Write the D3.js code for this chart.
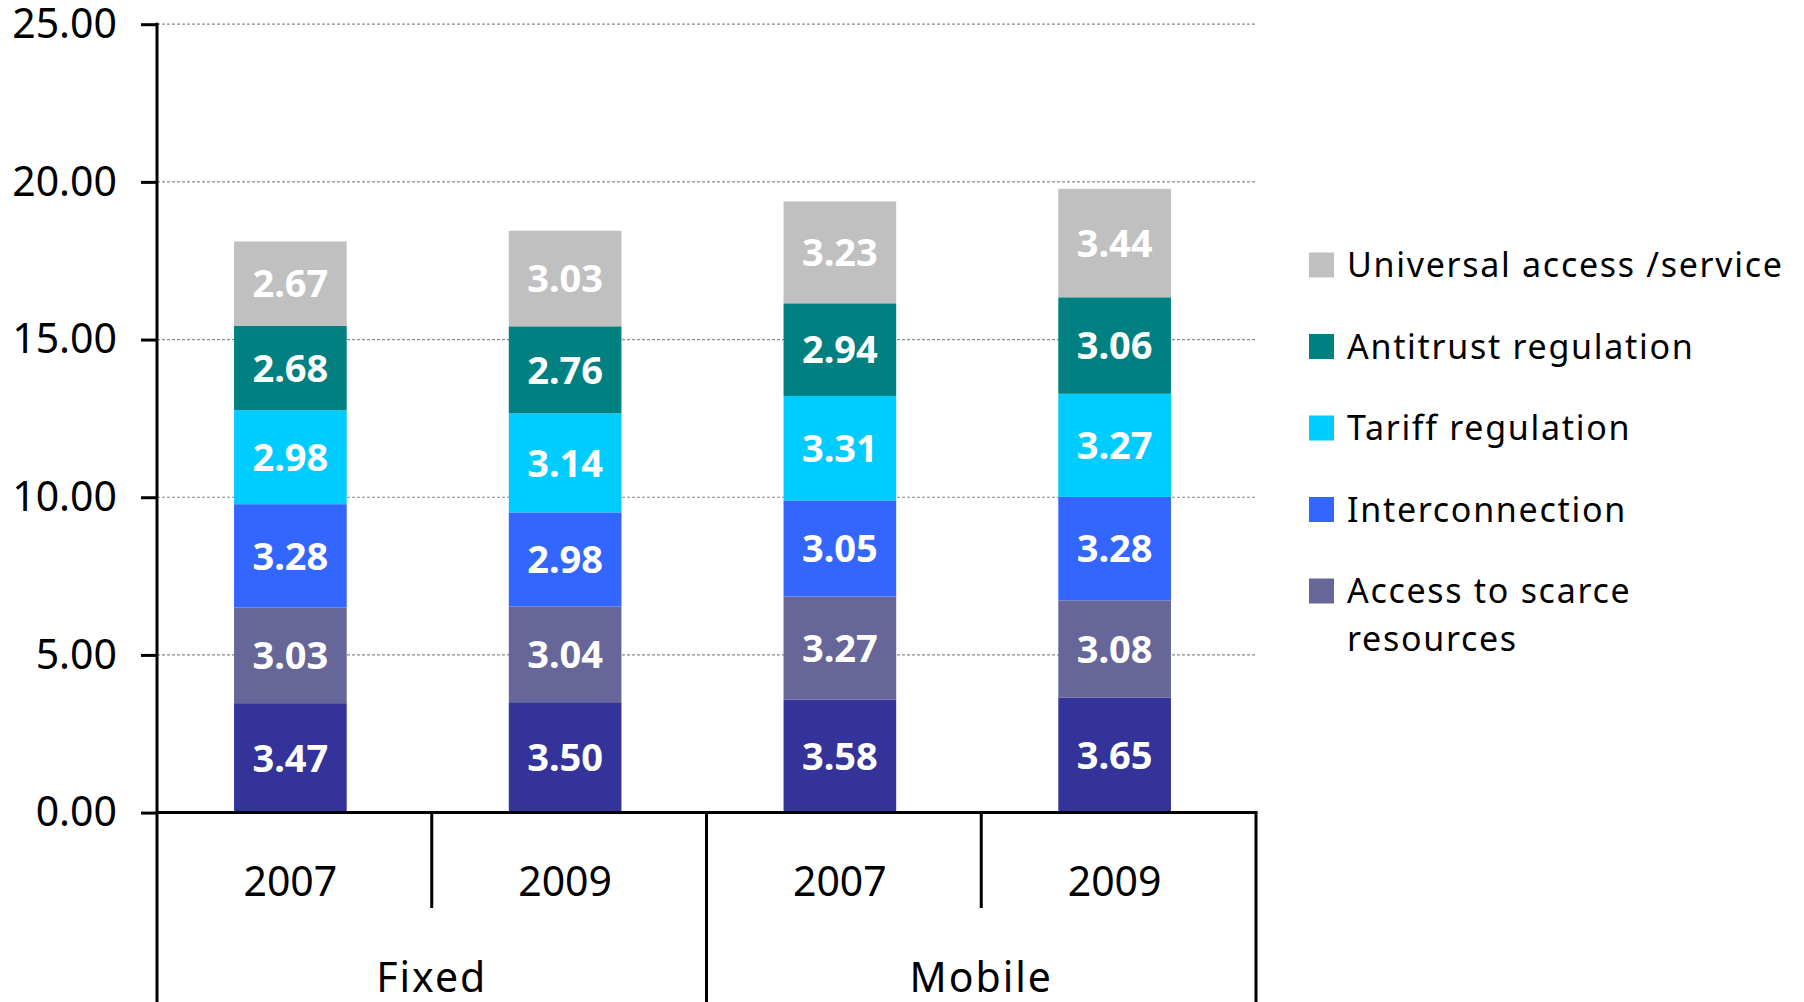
<html>
  <body style="margin:0;background:#fff">
    <script src="https://d3js.org/d3.v7.min.js"></script>
    <div id="main"></div>
    <script>
      // data
      const groups = ["Fixed", "Mobile"];
      const years = ["2007", "2009"];
      const seriesNames = [
        "Base", // bottom series, not shown in the legend
        "Access to scarce resources",
        "Interconnection",
        "Tariff regulation",
        "Antitrust regulation",
        "Universal access /service",
      ];
      const seriesColors = ["#333399", "#666699", "#3366FF", "#00CCFF", "#008080", "#C0C0C0"];
      const fixed2007 = [3.47, 3.03, 3.28, 2.98, 2.68, 2.67];
      const fixed2009 = [3.5, 3.04, 2.98, 3.14, 2.76, 3.03];
      const mobile2007 = [3.58, 3.27, 3.05, 3.31, 2.94, 3.23];
      const mobile2009 = [3.65, 3.08, 3.28, 3.27, 3.06, 3.44];
      const yTicks = [0, 5, 10, 15, 20, 25];
      const legendOrder = [5, 4, 3, 2, 1];

      const W = 1804, H = 1002;
      const svg = d3.select("#main").append("svg")
        .attr("width", W).attr("height", H)
        .style("display", "block");

      const rows = [
        { group: "Fixed", year: "2007", vals: fixed2007 },
        { group: "Fixed", year: "2009", vals: fixed2009 },
        { group: "Mobile", year: "2007", vals: mobile2007 },
        { group: "Mobile", year: "2009", vals: mobile2009 },
      ].map((r) => {
        const o = { key: r.group + "|" + r.year, group: r.group, year: r.year };
        seriesNames.forEach((s, i) => (o[s] = r.vals[i]));
        return o;
      });

      const plotL = 157, plotR = 1256, plotT = 24.2, zero = 812.6;
      const nudge = -4; // bars sit a little left of the band centres
      const x = d3.scaleBand().domain(rows.map((d) => d.key)).range([plotL + nudge, plotR + nudge])
        .paddingInner(0.59).paddingOuter(0.295);
      const band = d3.scaleBand().domain(rows.map((d) => d.key)).range([plotL, plotR]);
      const xg = d3.scaleBand().domain(groups).range([plotL, plotR]);
      const y = d3.scaleLinear().domain([0, 25]).range([zero, plotT]);

      // gridlines
      svg.append("g").selectAll("line")
        .data(yTicks.filter((d) => d > 0))
        .join("line")
        .attr("x1", plotL).attr("x2", plotR)
        .attr("y1", (d) => y(d)).attr("y2", (d) => y(d))
        .attr("stroke", "#8a8a8a").attr("stroke-width", 1.2)
        .attr("stroke-dasharray", "3,2");

      // stacked bars
      const stacked = d3.stack().keys(seriesNames)(rows);
      const layer = svg.append("g").selectAll("g")
        .data(stacked).join("g")
        .attr("fill", (d, i) => seriesColors[i]);
      layer.selectAll("rect")
        .data((d) => d)
        .join("rect")
        .attr("x", (d) => x(d.data.key))
        .attr("width", x.bandwidth())
        .attr("y", (d) => y(d[1]))
        .attr("height", (d) => y(d[0]) - y(d[1]));

      // value labels
      const labels = svg.append("g").selectAll("g")
        .data(stacked).join("g");
      labels.selectAll("text")
        .data((d) => d)
        .join("text")
        .attr("x", (d) => x(d.data.key) + x.bandwidth() / 2)
        .attr("y", (d) => y((d[0] + d[1]) / 2))
        .attr("dy", "0.36em")
        .attr("text-anchor", "middle")
        .attr("font-family", "Noto Sans")
        .attr("font-weight", "bold")
        .attr("font-size", 38)
        .attr("fill", "#fff")
        .text((d) => (d[1] - d[0]).toFixed(2));

      // y axis
      const yAxis = svg.append("g")
        .attr("transform", `translate(${plotL},0)`)
        .call(d3.axisLeft(y).tickValues(yTicks).tickFormat(d3.format(".2f"))
          .tickSize(16).tickSizeOuter(0).tickPadding(24));
      yAxis.select(".domain").remove();
      yAxis.selectAll(".tick line").attr("stroke", "#000").attr("stroke-width", 3);
      yAxis.selectAll(".tick text")
        .attr("font-family", "Noto Sans").attr("font-size", 41).attr("fill", "#000");

      svg.append("line")
        .attr("x1", plotL).attr("x2", plotL).attr("y1", y(25) - 1.5).attr("y2", H)
        .attr("stroke", "#000").attr("stroke-width", 3);

      // x axis line and separators
      svg.append("line")
        .attr("x1", plotL).attr("x2", plotR + 1.5).attr("y1", zero).attr("y2", zero)
        .attr("stroke", "#000").attr("stroke-width", 3);

      svg.append("g").selectAll("line")
        .data(rows)
        .join("line")
        .attr("x1", (d) => band(d.key) + band.bandwidth())
        .attr("x2", (d) => band(d.key) + band.bandwidth())
        .attr("y1", zero)
        .attr("y2", (d) => (d.year === years[1] ? H : 908))
        .attr("stroke", "#000").attr("stroke-width", 3);

      svg.append("g").selectAll("text")
        .data(rows)
        .join("text")
        .attr("x", (d) => band(d.key) + band.bandwidth() / 2 + nudge)
        .attr("y", 896)
        .attr("text-anchor", "middle")
        .attr("font-family", "Noto Sans").attr("font-size", 41)
        .text((d) => d.year);

      svg.append("g").selectAll("text")
        .data(groups)
        .join("text")
        .attr("x", (d) => xg(d) + xg.bandwidth() / 2)
        .attr("y", 992)
        .attr("text-anchor", "middle")
        .attr("font-family", "Noto Sans").attr("font-size", 41)
        .attr("letter-spacing", 2)
        .text((d) => d);

      // legend
      const leg = svg.append("g").selectAll("g")
        .data(legendOrder)
        .join("g")
        .attr("transform", (d, i) => `translate(1309,${265 + i * 81.5})`);
      leg.append("rect")
        .attr("x", 0).attr("y", -12.5).attr("width", 25).attr("height", 25)
        .attr("fill", (d) => seriesColors[d]);
      leg.append("text")
        .attr("x", 38)
        .attr("font-family", "Noto Sans").attr("font-size", 34)
        .attr("letter-spacing", 1.7)
        .each(function (d) {
          const name = seriesNames[d];
          const lines = name === "Access to scarce resources"
            ? ["Access to scarce", "resources"] : [name];
          d3.select(this).selectAll("tspan")
            .data(lines).join("tspan")
            .attr("x", 38)
            .attr("y", (l, j) => j * 48)
            .attr("dy", "0.36em")
            .text((l) => l);
        });
    </script>
  </body>
</html>
